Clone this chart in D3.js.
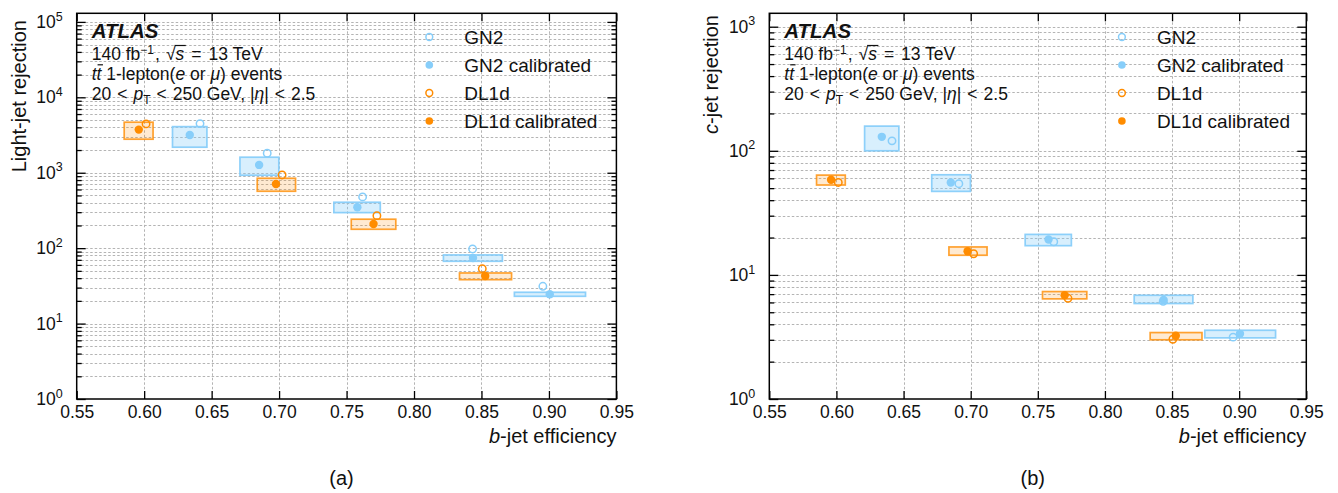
<!DOCTYPE html>
<html>
<head>
<meta charset="utf-8">
<script src="https://cdn.jsdelivr.net/npm/d3@7"></script>
<style>
  html, body { margin: 0; padding: 0; background: #fff; }
  svg { display: block; font-family: "Liberation Sans", Arial, Helvetica, sans-serif; }
</style>
</head>
<body>
<script>
// ---------------- DATA ----------------
const xTickValues = [0.55, 0.60, 0.65, 0.70, 0.75, 0.80, 0.85, 0.90, 0.95];
const xTickLabels = ["0.55", "0.60", "0.65", "0.70", "0.75", "0.80", "0.85", "0.90", "0.95"];
const legendLabels = ["GN2", "GN2 calibrated", "DL1d", "DL1d calibrated"];

// GN2 working points: b-jet efficiency (nominal / calibrated) and efficiency uncertainty box
const gn2EffNominal = [0.6414, 0.6912, 0.7619, 0.8434, 0.8955];
const gn2EffCalibrated = [0.6338, 0.6852, 0.7580, 0.8437, 0.9006];
const gn2EffLow = [0.6210, 0.6710, 0.7406, 0.8218, 0.8744];
const gn2EffHigh = [0.6465, 0.6998, 0.7750, 0.8655, 0.9271];

// DL1d working points
const dl1dEffNominal = [0.6014, 0.7022, 0.7725, 0.8506];
const dl1dEffCalibrated = [0.5960, 0.6977, 0.7700, 0.8528];
const dl1dEffLow = [0.5852, 0.6838, 0.7535, 0.8337];
const dl1dEffHigh = [0.6066, 0.7122, 0.7865, 0.8723];

// (a) light-jet rejection
const gn2LightNominal = [4480, 1814, 478, 97.6, 31.2];
const gn2LightCalibrated = [3170, 1270, 349, 74.1, 24.5];
const gn2LightLow = [2180, 926, 296, 67, 23];
const gn2LightHigh = [4085, 1606, 406, 81.3, 26];
const dl1dLightNominal = [4440, 935, 270, 53.5];
const dl1dLightCalibrated = [3730, 710, 209, 42.8];
const dl1dLightLow = [2782, 568, 178, 38.2];
const dl1dLightHigh = [4677, 845, 242, 46.9];

// (b) c-jet rejection
const gn2CNominal = [120.3, 54.3, 18.5, 6.13, 3.15];
const gn2CCalibrated = [129.6, 55.6, 19.3, 6.29, 3.35];
const gn2CLow = [100, 47.1, 17.2, 5.88, 3.11];
const gn2CHigh = [158, 64.1, 21.2, 6.85, 3.58];
const dl1dCNominal = [55.6, 14.8, 6.48, 3.03];
const dl1dCCalibrated = [58.4, 15.5, 6.85, 3.23];
const dl1dCLow = [53, 14.4, 6.41, 3.0];
const dl1dCHigh = [63.7, 16.8, 7.34, 3.43];

// ---------------- STYLE ----------------
const GN2_COLOR = "#87cefa";
const DL1D_COLOR = "#ff8c00";

const W = 1338, H = 493;
const svg = d3.select("body").append("svg").attr("width", W).attr("height", H);

function zip(n, f) { return d3.range(n).map(f); }

function drawPanel(o) {
  const g = svg.append("g");
  const x = d3.scaleLinear().domain([0.55, 0.95]).range([o.left, o.right]);
  const y = d3.scaleLog().domain([1, o.yMax]).range([o.bottom, o.top]);

  // grid
  const allY = y.ticks(50).filter(v => v > 1 && v < o.yMax);
  const grid = g.append("g").attr("stroke", "#b4b4b4").attr("stroke-width", 1)
    .attr("stroke-dasharray", "2.5,2");
  grid.selectAll("line.gy").data(allY).join("line")
    .attr("x1", o.left).attr("x2", o.right)
    .attr("y1", d => Math.round(y(d)) + 0.5).attr("y2", d => Math.round(y(d)) + 0.5);
  grid.selectAll("line.gx").data(xTickValues.slice(1, -1)).join("line")
    .attr("x1", d => Math.round(x(d)) + 0.5).attr("x2", d => Math.round(x(d)) + 0.5)
    .attr("y1", o.top).attr("y2", o.bottom);

  // data sets
  const sets = [
    { color: GN2_COLOR, fill: "rgba(135,206,250,0.32)", stroke: "rgba(135,206,250,0.95)",
      xn: gn2EffNominal, xc: gn2EffCalibrated, xl: gn2EffLow, xh: gn2EffHigh,
      yn: o.gn2Nom, yc: o.gn2Cal, yl: o.gn2Low, yh: o.gn2High },
    { color: DL1D_COLOR, fill: "rgba(255,140,0,0.18)", stroke: "rgba(255,140,0,0.8)",
      xn: dl1dEffNominal, xc: dl1dEffCalibrated, xl: dl1dEffLow, xh: dl1dEffHigh,
      yn: o.dlNom, yc: o.dlCal, yl: o.dlLow, yh: o.dlHigh }
  ];
  sets.forEach(s => {
    const boxes = zip(s.xl.length, i => ({ x0: s.xl[i], x1: s.xh[i], y0: s.yl[i], y1: s.yh[i] }));
    g.append("g").selectAll("rect").data(boxes).join("rect")
      .attr("x", d => x(d.x0)).attr("width", d => x(d.x1) - x(d.x0))
      .attr("y", d => y(d.y1)).attr("height", d => y(d.y0) - y(d.y1))
      .attr("fill", s.fill).attr("stroke", s.stroke).attr("stroke-width", 1.7);
  });
  sets.forEach(s => {
    const cal = zip(s.xc.length, i => ({ x: s.xc[i], y: s.yc[i] }));
    const nom = zip(s.xn.length, i => ({ x: s.xn[i], y: s.yn[i] }));
    g.append("g").selectAll("circle").data(cal).join("circle")
      .attr("cx", d => x(d.x)).attr("cy", d => y(d.y)).attr("r", 4.2)
      .attr("fill", s.color);
    g.append("g").selectAll("circle").data(nom).join("circle")
      .attr("cx", d => x(d.x)).attr("cy", d => y(d.y)).attr("r", 3.7)
      .attr("fill", "none").attr("stroke", s.color).attr("stroke-width", 1.5);
  });

  // axes
  const majors = y.ticks(50).filter(v => Math.abs(Math.log10(v) - Math.round(Math.log10(v))) < 1e-9);
  const minors = y.ticks(50).filter(v => !majors.includes(v));

  const xb = g.append("g").attr("transform", `translate(0,${o.bottom})`)
    .call(d3.axisBottom(x).tickValues(xTickValues).tickFormat((d, i) => xTickLabels[i])
      .tickSizeInner(-8).tickSizeOuter(0).tickPadding(7));
  g.append("g").attr("transform", `translate(0,${o.top})`)
    .call(d3.axisTop(x).tickValues(xTickValues).tickFormat("").tickSizeInner(-8).tickSizeOuter(0));

  const yl = g.append("g").attr("transform", `translate(${o.left},0)`)
    .call(d3.axisLeft(y).tickValues(majors).tickSizeInner(-9).tickSizeOuter(0).tickPadding(14)
      .tickFormat(() => "10"));
  g.append("g").attr("transform", `translate(${o.left},0)`)
    .call(d3.axisLeft(y).tickValues(minors).tickSizeInner(-5).tickSizeOuter(0).tickFormat(""));
  g.append("g").attr("transform", `translate(${o.right},0)`)
    .call(d3.axisRight(y).tickValues(majors).tickSizeInner(-9).tickSizeOuter(0).tickFormat(""));
  g.append("g").attr("transform", `translate(${o.right},0)`)
    .call(d3.axisRight(y).tickValues(minors).tickSizeInner(-5).tickSizeOuter(0).tickFormat(""));

  g.selectAll(".domain").remove();
  g.selectAll(".tick line").attr("stroke", "#000").attr("stroke-width", 1.3);
  xb.selectAll(".tick text").attr("font-size", 17.5).attr("fill", "#111")
    .attr("font-family", "Liberation Sans, Arial, sans-serif");
  yl.selectAll(".tick text").attr("font-size", 17.5).attr("fill", "#111")
    .attr("font-family", "Liberation Sans, Arial, sans-serif")
    .attr("text-anchor", "end").attr("x", -14)
    .each(function (d) {
      const t = d3.select(this);
      t.append("tspan").attr("dy", "-0.6em").attr("font-size", 12.5).text(Math.round(Math.log10(d)));
    });

  // frame
  g.append("rect").attr("x", o.left).attr("y", o.top)
    .attr("width", o.right - o.left).attr("height", o.bottom - o.top)
    .attr("fill", "none").attr("stroke", "#000").attr("stroke-width", 1.5);

  // axis titles
  const xTitle = g.append("text").attr("x", o.right).attr("y", 443).attr("text-anchor", "end")
    .attr("font-size", 20).attr("fill", "#111");
  xTitle.append("tspan").attr("font-style", "italic").text("b");
  xTitle.append("tspan").text("-jet efficiency");

  const yTitle = g.append("text")
    .attr("transform", `translate(${o.left - 51},${o.yTitleEnd}) rotate(-90)`)
    .attr("text-anchor", "end").attr("font-size", 20).attr("fill", "#111");
  o.yTitle.forEach(seg => {
    yTitle.append("tspan").attr("font-style", seg.i ? "italic" : "normal").text(seg.t);
  });

  // panel letter
  g.append("text").attr("x", (o.left + o.right) / 2 - 5).attr("y", 485).attr("text-anchor", "middle")
    .attr("font-size", 20).attr("fill", "#111").text(o.letter);

  // ATLAS block
  const tx = o.left + 15;
  g.append("text").attr("x", tx).attr("y", 38).attr("font-size", 20.5)
    .attr("font-weight", "bold").attr("font-style", "italic").attr("fill", "#111").text("ATLAS");
  const FS = 17.5;
  const lines = [
    [{ t: "140 fb" }, { t: "−1", sup: true }, { t: ",", dx: 1 }, { t: "√", dx: 6 }, { t: "s", i: true, over: 0.80, ox0: -1 },
     { t: "=", dx: 7 }, { t: "13 TeV", dx: 7 }],
    [{ t: "t", i: true }, { t: "t", i: true, over: 0.84, ox0: 1 }, { t: " 1-lepton(" }, { t: "e", i: true }, { t: " or " }, { t: "μ", i: true }, { t: ") events" }],
    [{ t: "20" }, { t: "<", dx: 6 }, { t: "p", i: true, dx: 6 }, { t: "T", sub: true }, { t: "<", dx: 6 },
     { t: "250 GeV, |", dx: 6 }, { t: "η", i: true }, { t: "|" }, { t: "<", dx: 6 }, { t: "2.5", dx: 6 }]
  ];
  lines.forEach((segs, li) => {
    const baseY = 59.5 + li * 20;
    const t = g.append("text").attr("x", tx).attr("y", baseY).attr("font-size", FS).attr("fill", "#111");
    let shift = 0, idx = 0;
    const overs = [];
    segs.forEach(seg => {
      const sp = t.append("tspan").text(seg.t);
      if (seg.i) sp.attr("font-style", "italic");
      let dy = 0;
      if (seg.sup) { sp.attr("font-size", 12); dy = -6; }
      if (seg.sub) { sp.attr("font-size", 12); dy = 4; }
      sp.attr("dy", dy - shift);
      shift = dy;
      if (seg.dx) sp.attr("dx", seg.dx);
      if (seg.over) overs.push({ idx, k: seg.over, ox0: seg.ox0 || 0 });
      idx += seg.t.length;
    });
    overs.forEach(ov => {
      let ext;
      try { ext = t.node().getExtentOfChar(ov.idx); } catch (e) { ext = null; }
      if (!ext) return;
      g.append("line")
        .attr("x1", ext.x + ov.ox0).attr("x2", ext.x + ext.width + 1.5)
        .attr("y1", baseY - ov.k * FS).attr("y2", baseY - ov.k * FS)
        .attr("stroke", "#111").attr("stroke-width", 1.2);
    });
  });

  // legend
  const lx = o.left + 352.6;
  const legendY = [37, 65, 93, 121];
  const legendStyles = [
    { c: GN2_COLOR, open: true }, { c: GN2_COLOR, open: false },
    { c: DL1D_COLOR, open: true }, { c: DL1D_COLOR, open: false }
  ];
  const lg = g.append("g");
  lg.selectAll("circle").data(legendLabels).join("circle")
    .attr("cx", lx).attr("cy", (d, i) => legendY[i]).attr("r", (d, i) => legendStyles[i].open ? 3.4 : 3.8)
    .attr("fill", (d, i) => legendStyles[i].open ? "none" : legendStyles[i].c)
    .attr("stroke", (d, i) => legendStyles[i].open ? legendStyles[i].c : "none")
    .attr("stroke-width", 1.5);
  lg.selectAll("text").data(legendLabels).join("text")
    .attr("x", lx + 35).attr("y", (d, i) => legendY[i]).attr("dy", "0.36em")
    .attr("font-size", 19).attr("fill", "#111").text(d => d);
}

drawPanel({
  left: 76.7, right: 616.4, top: 13.3, bottom: 399, yMax: Math.pow(10, 5.114), yTitleEnd: 20,
  gn2Nom: gn2LightNominal, gn2Cal: gn2LightCalibrated, gn2Low: gn2LightLow, gn2High: gn2LightHigh,
  dlNom: dl1dLightNominal, dlCal: dl1dLightCalibrated, dlLow: dl1dLightLow, dlHigh: dl1dLightHigh,
  yTitle: [{ t: "Light-jet rejection" }], letter: "(a)"
});
drawPanel({
  left: 769.3, right: 1306.3, top: 13.3, bottom: 399, yMax: Math.pow(10, 3.108), yTitleEnd: 15,
  gn2Nom: gn2CNominal, gn2Cal: gn2CCalibrated, gn2Low: gn2CLow, gn2High: gn2CHigh,
  dlNom: dl1dCNominal, dlCal: dl1dCCalibrated, dlLow: dl1dCLow, dlHigh: dl1dCHigh,
  yTitle: [{ t: "c", i: true }, { t: "-jet rejection" }], letter: "(b)"
});
</script>
</body>
</html>
